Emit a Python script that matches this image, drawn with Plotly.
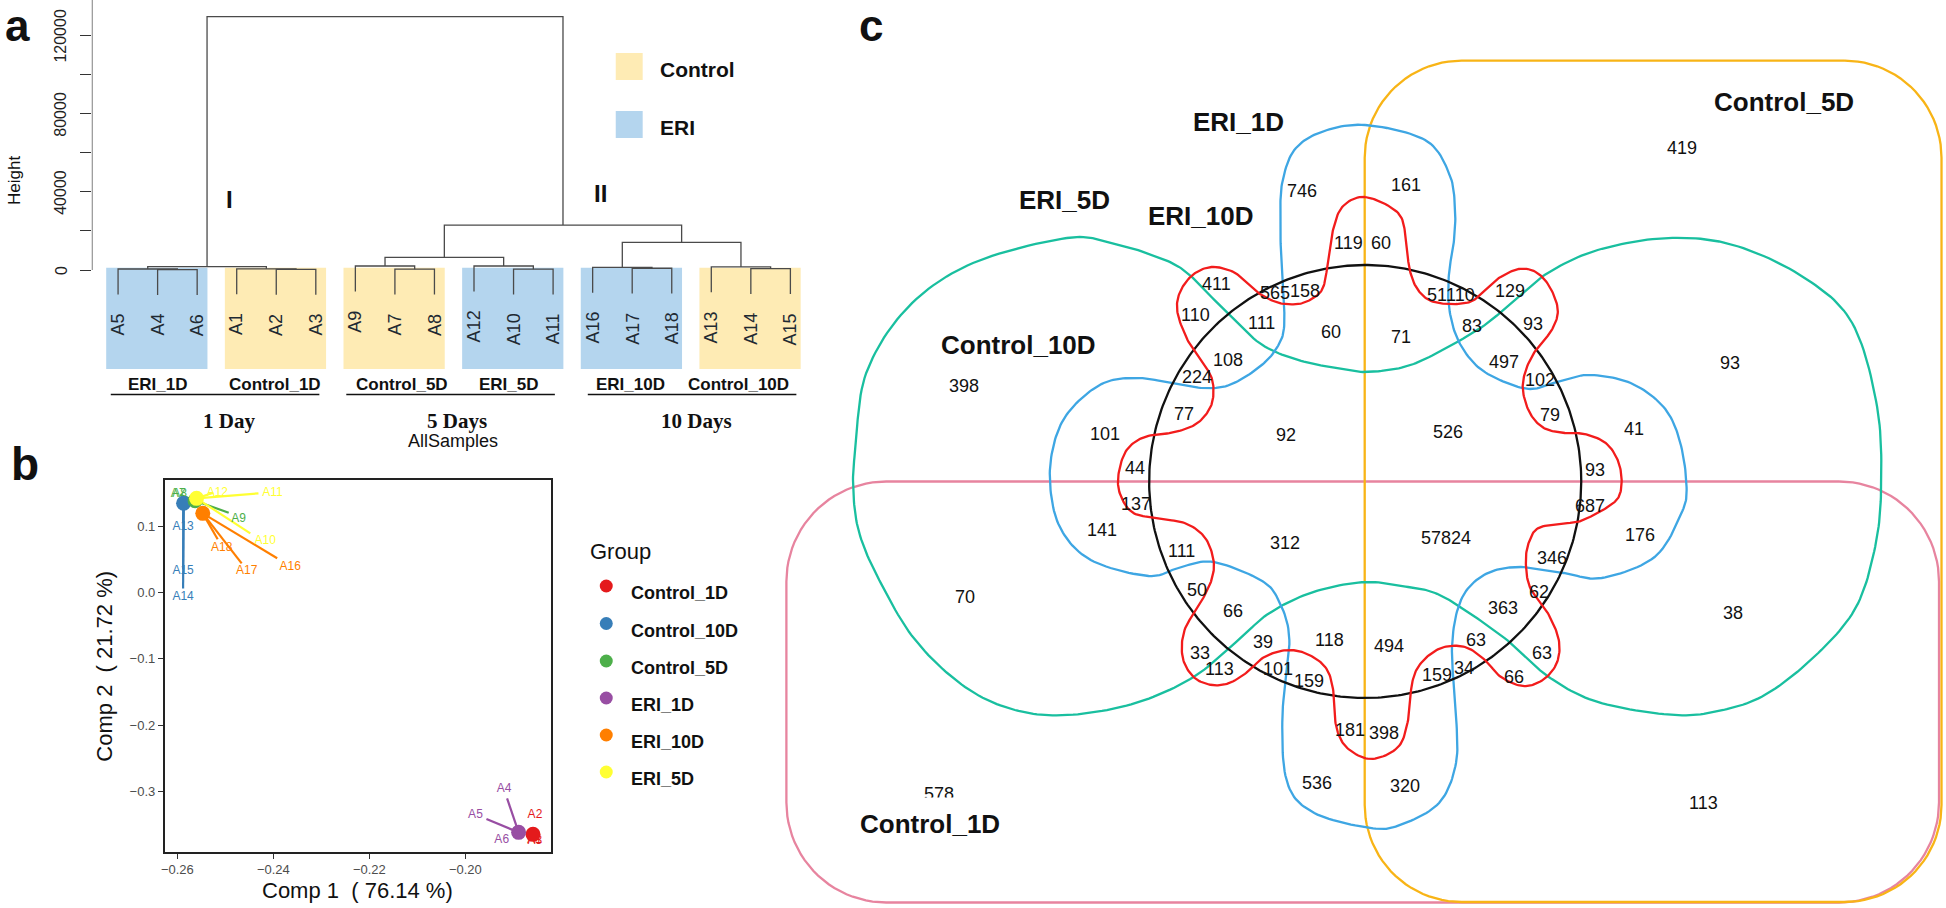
import numpy as np
import plotly.graph_objects as go

W, H = 1946, 908
FONT = "Liberation Sans, Arial, sans-serif"
SERIF = "Liberation Serif, Times New Roman, serif"

# ======================= DATA =======================
# ---- panel a : hierarchical clustering ----
leaf_order = ["A5", "A4", "A6", "A1", "A2", "A3", "A9", "A7", "A8",
              "A12", "A10", "A11", "A16", "A17", "A18", "A13", "A14", "A15"]
merge_left = ["A4", "A5", "A2", "A1", "m1", "A7", "A9", "A10", "A12", "m6",
              "A17", "A16", "A14", "A13", "m11", "m9", "m4"]
merge_right = ["A6", "m0", "A3", "m2", "m3", "A8", "m5", "A11", "m7", "m8",
               "A18", "m10", "A15", "m12", "m13", "m14", "m15"]
merge_height = [200, 500, 300, 600, 1700, 400, 2050, 400, 2050, 6500,
                900, 1300, 700, 1600, 14200, 23000, 129800]
HANG = 13000
cluster_groups = ["ERI_1D", "Control_1D", "Control_5D", "ERI_5D", "ERI_10D", "Control_10D"]
cluster_types = ["ERI", "Control", "Control", "ERI", "ERI", "Control"]
height_ticks = [0, 20000, 40000, 60000, 80000, 100000, 120000, 140000]
height_ticklabels = [0, 40000, 80000, 120000]
day_labels = ["1 Day", "5 Days", "10 Days"]
legend_types = ["Control", "ERI"]

# ---- panel b : PCA ----
pca_groups = ["Control_1D", "Control_10D", "Control_5D", "ERI_1D", "ERI_10D", "ERI_5D"]
pca_centroid_x = [-0.1859, -0.2587, -0.2563, -0.1889, -0.2547, -0.2560]
pca_centroid_y = [-0.3643, 0.1342, 0.1381, -0.3613, 0.1191, 0.1417]
sample_names = ["A1", "A2", "A3", "A13", "A14", "A15", "A7", "A8", "A9",
                "A4", "A5", "A6", "A16", "A17", "A18", "A10", "A11", "A12"]
sample_group = [0, 0, 0, 1, 1, 1, 2, 2, 2, 3, 3, 3, 4, 4, 4, 5, 5, 5]
sample_x = [-0.1864, -0.1857, -0.1855, -0.2588, -0.2588, -0.2588, -0.2594, -0.2593, -0.2493,
            -0.1913, -0.1956, -0.1893, -0.2392, -0.2466, -0.2516, -0.2448, -0.2431, -0.2525]
sample_y = [-0.3630, -0.3600, -0.3660, 0.105, 0.006, 0.035, 0.147, 0.146, 0.120,
            -0.3101, -0.3413, -0.3625, 0.0514, 0.0438, 0.0800, 0.0890, 0.1492, 0.1500]
comp_pct = [76.14, 21.72]

# ---- panel c : 6-set Venn ----
venn_sets = ["Control_1D", "Control_5D", "ERI_5D", "ERI_1D", "ERI_10D", "Control_10D"]
venn_counts = [746, 161, 419, 119, 60, 411, 565, 158, 110, 111, 60, 71, 51, 110, 129, 83,
               93, 497, 102, 93, 108, 224, 398, 77, 101, 92, 526, 79, 41, 44, 93, 137,
               687, 141, 312, 57824, 176, 70, 111, 346, 50, 62, 66, 363, 38, 39, 118, 494,
               63, 63, 33, 113, 101, 159, 159, 34, 66, 181, 398, 578, 536, 320, 113]

# ======================= LAYOUT / STYLE =======================
C_CONTROL = "#feebb4"
C_ERI = "#b4d5ee"
pca_colors = ["#e41a1c", "#377eb8", "#4daf4a", "#984ea3", "#ff7f00", "#ffff33"]
venn_colors = {"Control_1D": "#e7849f", "Control_5D": "#f8b416", "ERI_5D": "#19bf9f",
               "ERI_1D": "#3ea6e3", "ERI_10D": "#f21c1c", "Control_10D": "#111111"}

# pixel positions of Venn count labels (layout only)
venn_label_px = [
    (1301, 191), (1405, 185), (1681, 148), (1347, 243), (1380, 243), (1215, 284), (1274, 293),
    (1304, 291), (1194, 315), (1260, 323), (1330, 332), (1400, 337), (1436, 295), (1459, 295),
    (1509, 291), (1471, 326), (1532, 324), (1503, 362), (1539, 380), (1730, 363), (1227, 360),
    (1195, 377), (962, 386), (1182, 414), (1103, 434), (1285, 435), (1447, 432), (1549, 415),
    (1633, 429), (1133, 468), (1594, 470), (1134, 504), (1589, 506), (1100, 530), (1284, 543),
    (1445, 538), (1639, 535), (963, 597), (1180, 551), (1551, 558), (1195, 590), (1538, 592),
    (1232, 611), (1502, 608), (1733, 613), (1262, 642), (1328, 640), (1388, 646), (1475, 640),
    (1541, 653), (1198, 653), (1218, 669), (1277, 669), (1308, 681), (1436, 675), (1463, 668),
    (1513, 677), (1349, 730), (1383, 733), (937, 794), (1316, 783), (1404, 786), (1703, 803)]
venn_setlabel_px = {"Control_1D": (928, 824), "Control_5D": (1784, 102), "ERI_5D": (1063, 200),
                    "ERI_1D": (1237, 122), "ERI_10D": (1199, 216), "Control_10D": (1017, 345)}

fig = go.Figure()

def px2paper_x(p):
    return p / W

def py2paper_y(p):
    return 1 - p / H

# dendrogram axes (x = leaf index, y = height)
LEAF0, LEAFSTEP = 114.3, 39.63
D_PX0, D_PX1 = 88, 830
dx_range = [(D_PX0 - LEAF0) / LEAFSTEP, (D_PX1 - LEAF0) / LEAFSTEP]
V_PER_PX = 512.2
ZERO_PY = 270
dy_range = [(ZERO_PY - 380) * V_PER_PX, ZERO_PY * V_PER_PX]

# PCA axes
P_X0, P_X1, P_Y0, P_Y1 = 161, 547.7, 480, 851.7
p_xrange = [-0.26264, -0.18224]
p_yrange = [-0.3904, 0.1693]
p_sx = (P_X1 - P_X0) / (p_xrange[1] - p_xrange[0])
p_sy = (P_Y1 - P_Y0) / (p_yrange[1] - p_yrange[0])

shapes = []
annotations = []

def ptext(x, y, text, size, bold=False, family=FONT, color="#111", xanchor="center", angle=0, yanchor="middle"):
    annotations.append(dict(x=x, y=y, xref="x3", yref="y3", text="<b>%s</b>" % text if bold else text,
                            showarrow=False, xanchor=xanchor, yanchor=yanchor, textangle=angle,
                            font=dict(family=family, size=size, color=color)))

# ======================= PANEL A =======================
pos = {n: i for i, n in enumerate(leaf_order)}
node_x, node_h = {}, {}
seg_x, seg_y = [], []
leaf_bottom = {}
for k, (a, b, h) in enumerate(zip(merge_left, merge_right, merge_height)):
    pts = []
    for c in (a, b):
        if c in pos:
            cx, cy = pos[c], h - HANG
            leaf_bottom[c] = cy
        else:
            cx, cy = node_x[c], node_h[c]
        pts.append((cx, cy))
    (xa, ya), (xb, yb) = pts
    seg_x += [xa, xa, xb, xb, None]
    seg_y += [ya, h, h, yb, None]
    node_x["m%d" % k] = (xa + xb) / 2
    node_h["m%d" % k] = h

fig.add_trace(go.Scatter(x=seg_x, y=seg_y, mode="lines", xaxis="x", yaxis="y",
                         line=dict(color="#4a4a4a", width=1.3), hoverinfo="skip"))

for g, (name, typ) in enumerate(zip(cluster_groups, cluster_types)):
    shapes.append(dict(type="rect", xref="x", yref="y", layer="below",
                       x0=3 * g - 0.30, x1=3 * g + 2 + 0.26, y0=1200, y1=-50700,
                       fillcolor=C_CONTROL if typ == "Control" else C_ERI, line=dict(width=0)))
shapes.append(dict(type="line", xref="x", yref="y", x0=dx_range[0], x1=dx_range[0],
                   y0=0, y1=140000, line=dict(color="#333", width=1.3)))
for n, i in pos.items():
    annotations.append(dict(x=i, y=leaf_bottom[n] - 17 * V_PER_PX, xref="x", yref="y",
                            text=n, textangle=-90, showarrow=False, yanchor="top",
                            xanchor="center", font=dict(family=FONT, size=18, color="#1f2a33")))
for v in height_ticklabels:
    ptext(57, ZERO_PY - v / V_PER_PX, str(v), 16, color="#222", angle=-90)

ptext(14, 25, "a", 44, bold=True)
ptext(21, 464, "b", 46, bold=True)
ptext(869, 25, "c", 44, bold=True)
ptext(10, 180, "Height", 17, angle=-90)
ptext(226, 199, "I", 24, bold=True)
ptext(598, 193, "II", 24, bold=True)
for typ, yc in zip(legend_types, [66.5, 124.5]):
    shapes.append(dict(type="rect", xref="x3", yref="y3", x0=613, x1=640, y0=yc - 13.5, y1=yc + 13.5,
                       fillcolor=C_CONTROL if typ == "Control" else C_ERI, line=dict(width=0)))
    ptext(655, yc + 3, typ, 21, bold=True, xanchor="left")
grp_x = [154, 272, 399, 506, 628, 736]
for name, x in zip(cluster_groups, grp_x):
    ptext(x, 384, name, 17, bold=True)
for (x0, x1) in [(107, 316), (343, 552), (585, 794)]:
    shapes.append(dict(type="line", xref="x3", yref="y3", x0=x0, x1=x1, y0=394.5, y1=394.5,
                       line=dict(color="#111", width=1.6)))
for lab, x in zip(day_labels, [225, 454, 694]):
    ptext(x, 421, lab, 21, bold=True, family=SERIF)
ptext(450, 441, "AllSamples", 18)

# ======================= PANEL B =======================
for g, name in enumerate(pca_groups):
    lx, ly = [], []
    for s, sg in enumerate(sample_group):
        if sg == g:
            lx += [pca_centroid_x[g], sample_x[s], None]
            ly += [pca_centroid_y[g], sample_y[s], None]
    fig.add_trace(go.Scatter(x=lx, y=ly, mode="lines", xaxis="x2", yaxis="y2",
                             line=dict(color=pca_colors[g], width=2.2), hoverinfo="skip"))

label_off = {"A1": (4, 6), "A2": (1, -17), "A3": (0, 5), "A13": (0, 4), "A14": (0, 9),
             "A15": (0, 2), "A7": (-2, -1), "A8": (-1, -1), "A9": (10, 6), "A4": (-3, -9),
             "A5": (-11, -4), "A6": (-15, 7), "A16": (13, 9), "A17": (5, 8), "A18": (4, 9),
             "A10": (15, 8), "A11": (14, 0), "A12": (4, 0)}
for g, name in enumerate(pca_groups):
    tx, ty, tt = [], [], []
    for s, sg in enumerate(sample_group):
        if sg == g:
            ox, oy = label_off[sample_names[s]]
            tx.append(sample_x[s] + ox / p_sx)
            ty.append(sample_y[s] - oy / p_sy)
            tt.append(sample_names[s])
    fig.add_trace(go.Scatter(x=tx, y=ty, text=tt, mode="text", xaxis="x2", yaxis="y2",
                             textfont=dict(family=FONT, size=12, color=pca_colors[g]),
                             hoverinfo="skip"))
fig.add_trace(go.Scatter(x=pca_centroid_x, y=pca_centroid_y, mode="markers", xaxis="x2", yaxis="y2",
                         marker=dict(size=15, color=pca_colors, line=dict(width=0)),
                         hoverinfo="skip"))

ptext((P_X0 + P_X1) / 2, 890, "Comp 1  ( %.2f %%)" % comp_pct[0], 22)
ptext(101, (P_Y0 + P_Y1) / 2, "Comp 2  ( %.2f %%)" % comp_pct[1], 22, angle=-90)
ptext(585, 551, "Group", 22, xanchor="left")
leg_y = [586, 623.5, 661, 698, 735, 772]
fig.add_trace(go.Scatter(x=[603.5] * 6, y=leg_y, mode="markers", xaxis="x3", yaxis="y3",
                         marker=dict(size=13, color=pca_colors), hoverinfo="skip"))
for name, y in zip(pca_groups, leg_y):
    ptext(626, y + 7, name, 18, bold=True, xanchor="left")

# ======================= PANEL C (pixel overlay) =======================
def rounded_rect(x0, y0, x1, y1, r, n=24):
    pts = []
    corners = [((x1 - r, y0 + r), -90), ((x1 - r, y1 - r), 0), ((x0 + r, y1 - r), 90), ((x0 + r, y0 + r), 180)]
    for (cx, cy), a0 in corners:
        for a in np.linspace(np.radians(a0), np.radians(a0 + 90), n):
            pts.append((cx + r * np.cos(a), cy + r * np.sin(a)))
    pts.append(pts[0])
    return np.array(pts)

def smooth_closed(pts, n=14):
    P = np.array(pts, dtype=float)
    N = len(P)
    out = []
    for i in range(N):
        p0, p1, p2, p3 = P[(i - 1) % N], P[i], P[(i + 1) % N], P[(i + 2) % N]
        for t in np.linspace(0, 1, n, endpoint=False):
            t2, t3 = t * t, t * t * t
            out.append(0.5 * (2 * p1 + (-p0 + p2) * t + (2 * p0 - 5 * p1 + 4 * p2 - p3) * t2
                              + (-p0 + 3 * p1 - 3 * p2 + p3) * t3))
    out.append(out[0])
    return np.array(out)

CX, CY, CR = 1364, 481.5, 216.5
th = np.linspace(0, 2 * np.pi, 400)
outline = {}
outline["Control_1D"] = rounded_rect(784, 481.5, 1939, 902.5, 100)
outline["Control_5D"] = rounded_rect(1363.5, 60.7, 1941.5, 902.0, 97)
outline["Control_10D"] = np.column_stack([CX + CR * np.cos(th), CY + CR * np.sin(th)])
outline["ERI_5D"] = smooth_closed([
    (1065, 238), (1110, 243), (1150, 255), (1182, 270), (1216, 303), (1258, 343), (1297, 360),
    (1335, 368), (1364, 372), (1403, 367), (1436, 353), (1481, 327), (1514, 300), (1547, 273),
    (1597, 250), (1667, 238), (1733, 245), (1803, 277), (1852, 323), (1877, 407), (1881, 487),
    (1875, 547), (1856, 607), (1818, 653), (1768, 693), (1723, 710), (1673, 715), (1597, 702),
    (1548, 677), (1510, 643), (1464, 610), (1434, 593), (1407, 587), (1364, 582), (1312, 592),
    (1268, 613), (1237, 640), (1192, 677), (1134, 703), (1067, 715), (1013, 710), (963, 687),
    (913, 640), (877, 580), (857, 533), (851, 490), (853, 450), (864, 373), (906, 307), (971, 263)])
outline["ERI_1D"] = smooth_closed([
    (1364, 125), (1424, 140), (1448, 173), (1454, 207), (1453, 240), (1448, 273), (1448, 307),
    (1457, 340), (1477, 367), (1506, 383), (1531, 389), (1556, 382), (1588, 375), (1630, 383),
    (1663, 407), (1679, 440), (1686, 485), (1681, 513), (1654, 557), (1601, 578), (1563, 573),
    (1517, 567), (1483, 575), (1460, 600), (1451, 647), (1455, 713), (1455, 763), (1438, 803),
    (1399, 825), (1369, 828), (1313, 813), (1286, 783), (1281, 717), (1288, 640), (1277, 600),
    (1259, 580), (1212, 562), (1179, 567), (1147, 576), (1089, 560), (1058, 527), (1048, 480),
    (1054, 437), (1071, 407), (1102, 383), (1136, 378), (1170, 383), (1201, 388), (1228, 385),
    (1258, 367), (1276, 347), (1283, 323), (1280, 267), (1279, 216), (1281, 182), (1293, 150),
    (1320, 132)])
outline["ERI_10D"] = smooth_closed([
    (1364, 197), (1397, 213), (1405, 240), (1408, 267), (1415, 287), (1428, 300), (1448, 304),
    (1469, 302), (1481, 293), (1498, 278), (1518, 269), (1535, 272), (1549, 287), (1557, 310),
    (1551, 330), (1535, 350), (1525, 370), (1522, 390), (1529, 413), (1543, 428), (1564, 433),
    (1584, 434), (1605, 443), (1617, 460), (1621, 480), (1618, 497), (1607, 507), (1589, 517),
    (1576, 522), (1540, 527), (1529, 540), (1525, 560), (1529, 587), (1547, 613), (1558, 640),
    (1556, 663), (1542, 680), (1522, 686), (1500, 677), (1484, 660), (1464, 647), (1440, 648),
    (1420, 663), (1411, 683), (1407, 720), (1397, 747), (1370, 759), (1346, 748), (1335, 727),
    (1333, 697), (1326, 670), (1308, 655), (1286, 650), (1263, 657), (1246, 672), (1228, 683),
    (1210, 685), (1192, 677), (1181, 657), (1183, 630), (1199, 603), (1210, 580), (1212, 560),
    (1203, 537), (1183, 523), (1152, 518), (1130, 512), (1118, 493), (1117, 473), (1125, 450),
    (1143, 437), (1174, 432), (1196, 423), (1209, 407), (1212, 390), (1209, 375), (1199, 360),
    (1186, 340), (1176, 313), (1178, 293), (1191, 275), (1210, 267), (1232, 272), (1247, 285),
    (1260, 295), (1278, 303), (1297, 304), (1312, 298), (1322, 287), (1327, 260), (1331, 233),
    (1341, 207)])

for name in ["Control_1D", "Control_5D", "ERI_5D", "ERI_1D", "Control_10D", "ERI_10D"]:
    o = outline[name]
    fig.add_trace(go.Scatter(x=o[:, 0], y=o[:, 1], mode="lines", xaxis="x3", yaxis="y3",
                             line=dict(color=venn_colors[name], width=2.3), hoverinfo="skip"))

for cnt, (x, y) in zip(venn_counts, venn_label_px):
    annotations.append(dict(x=x, y=y, xref="x3", yref="y3", text=str(cnt), showarrow=False,
                            font=dict(family=FONT, size=18, color="#111")))
for name in venn_sets:
    x, y = venn_setlabel_px[name]
    annotations.append(dict(x=x, y=y, xref="x3", yref="y3", text="<b>%s</b>" % name, showarrow=False,
                            font=dict(family=FONT, size=26, color="#111"),
                            bgcolor="white" if name == "Control_1D" else None,
                            borderpad=11 if name == "Control_1D" else 1))

# ======================= AXES =======================
hidden = dict(visible=False, showgrid=False, zeroline=False)
fig.update_layout(
    width=W, height=H, margin=dict(l=0, r=0, t=0, b=0, pad=0),
    paper_bgcolor="white", plot_bgcolor="rgba(0,0,0,0)", showlegend=False,
    font=dict(family=FONT),
    xaxis=dict(domain=[px2paper_x(D_PX0), px2paper_x(D_PX1)], range=dx_range, **hidden),
    yaxis=dict(domain=[py2paper_y(380), py2paper_y(0)], range=dy_range, showgrid=False, zeroline=False,
               showline=False, tickmode="array", tickvals=height_ticks,
               ticktext=[""] * len(height_ticks),
               ticks="outside", ticklen=11, tickwidth=1.3, tickcolor="#333"),
    xaxis2=dict(domain=[px2paper_x(P_X0), px2paper_x(P_X1)], range=p_xrange, anchor="y2",
                showgrid=False, zeroline=False, showline=True, mirror=True, linecolor="#222", linewidth=1.6,
                tickmode="array", tickvals=[-0.26, -0.24, -0.22, -0.20],
                ticktext=["\u22120.26", "\u22120.24", "\u22120.22", "\u22120.20"],
                ticks="outside", ticklen=5, tickcolor="#333", tickwidth=1.2,
                tickfont=dict(family=FONT, size=13, color="#4d4d4d")),
    yaxis2=dict(domain=[py2paper_y(P_Y1), py2paper_y(P_Y0)], range=p_yrange, anchor="x2",
                showgrid=False, zeroline=False, showline=True, mirror=True, linecolor="#222", linewidth=1.6,
                tickmode="array", tickvals=[0.1, 0.0, -0.1, -0.2, -0.3],
                ticktext=["0.1", "0.0", "\u22120.1", "\u22120.2", "\u22120.3"],
                ticks="outside", ticklen=5, tickcolor="#333", tickwidth=1.2,
                tickfont=dict(family=FONT, size=13, color="#4d4d4d")),
    xaxis3=dict(domain=[0, 1], range=[0, W], anchor="y3", **hidden),
    yaxis3=dict(domain=[0, 1], range=[H, 0], anchor="x3", **hidden),
    shapes=shapes, annotations=annotations,
)

fig.write_html("out.html", config={"displayModeBar": False},
               post_script="document.body.style.margin='0';document.body.style.overflow='hidden';")
